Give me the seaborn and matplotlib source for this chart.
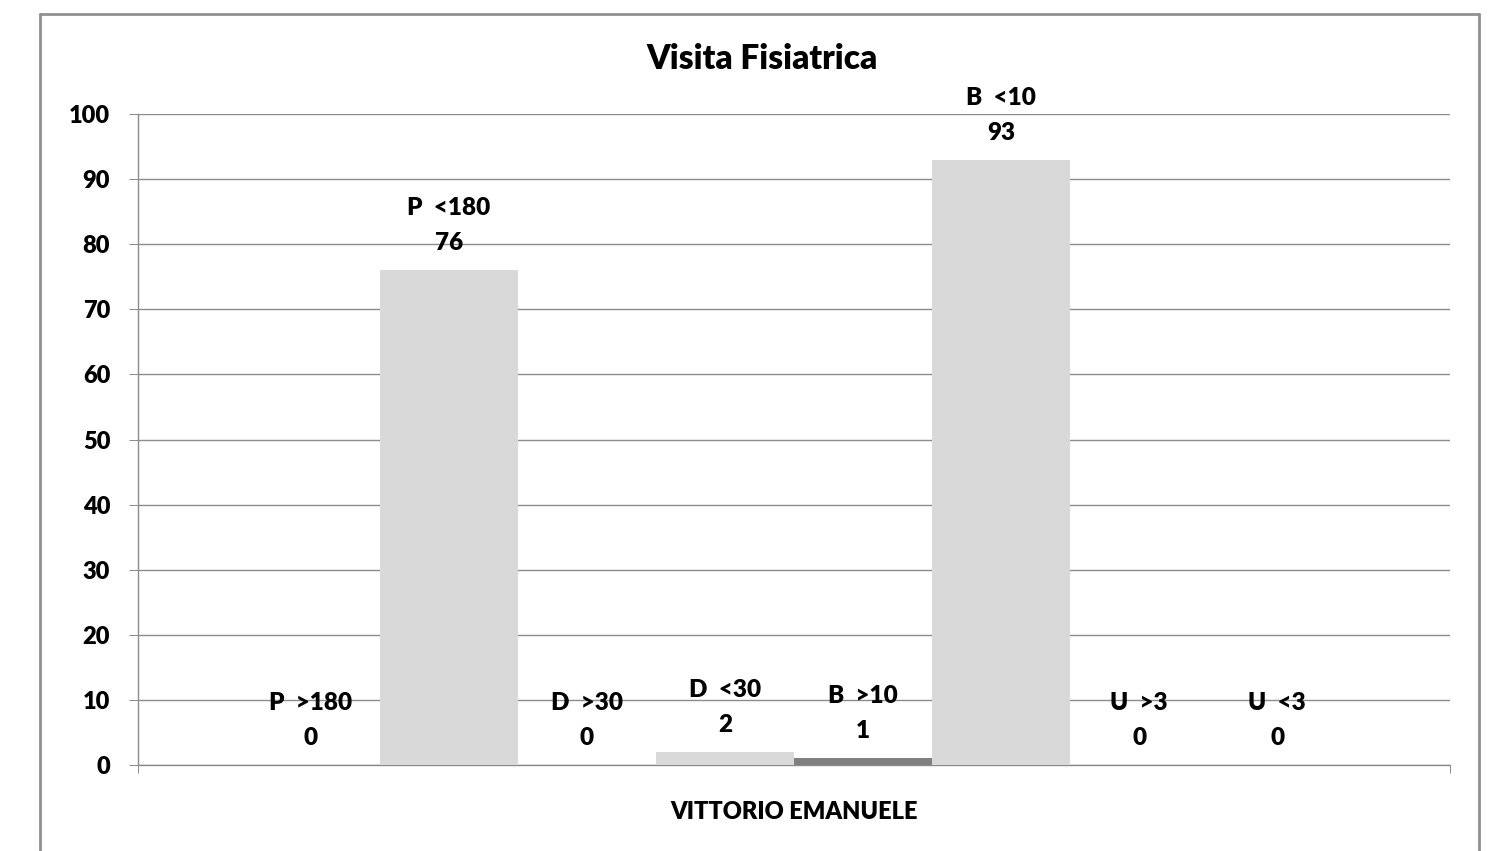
import matplotlib
matplotlib.use("Agg")
import matplotlib.pyplot as plt
from matplotlib.lines import Line2D
import seaborn as sns
import pandas as pd

# Data
categoria = "VITTORIO EMANUELE"
serie = ["P  >180", "P  <180", "D  >30", "D  <30", "B  >10", "B  <10", "U  >3", "U  <3"]
valori = [0, 76, 0, 2, 1, 93, 0, 0]
titolo = "Visita Fisiatrica"

colori = {s: ("#808080" if ">" in s else "#d9d9d9") for s in serie}

df = pd.DataFrame({"categoria": [categoria] * len(serie), "serie": serie, "valore": valori})

sns.set_style("white")
plt.rcParams["font.family"] = ["Lato", "DejaVu Sans"]
WEIGHT = "heavy"

fig = plt.figure(figsize=(14.88, 8.51), dpi=100)
W, H = 1488, 851
ax = fig.add_axes([138 / W, 1 - 765 / H, (1450 - 138) / W, (765 - 114) / H])

grey = "#8c8c8c"

sns.barplot(data=df, x="categoria", y="valore", hue="serie", hue_order=serie,
            palette=colori, width=0.842, gap=0, dodge=True, legend=False,
            linewidth=0, saturation=1, ax=ax, zorder=3)

ax.set_xlim(-0.5, 0.5)
ax.set_ylim(0, 100)
ax.set_yticks(range(0, 101, 10))
ax.yaxis.grid(True, color=grey, linewidth=1.0, zorder=0)
ax.set_axisbelow(True)

for side in ("top", "right"):
    ax.spines[side].set_visible(False)
for side in ("left", "bottom"):
    ax.spines[side].set_color(grey)
    ax.spines[side].set_linewidth(1.0)

ax.tick_params(axis="y", direction="out", length=6.5, width=0.72, color=grey,
               pad=13.5, labelsize=17, labelcolor="black", left=True)
for lab in ax.get_yticklabels():
    lab.set_fontweight(WEIGHT)

# category label below the axis, boundary ticks at the group edges
ax.tick_params(axis="x", which="major", length=0, pad=26, labelsize=17, labelcolor="black")
for lab in ax.get_xticklabels():
    lab.set_fontweight(WEIGHT)
ax.set_xticks([-0.5, 0.5], minor=True)
ax.tick_params(axis="x", which="minor", direction="out", length=6, width=0.72,
               color=grey, bottom=True)
ax.set_xlabel("")
ax.set_ylabel("")

# data labels: series name and value above each bar
for nome, cont in zip(serie, ax.containers):
    bar = cont[0]
    xc = bar.get_x() + bar.get_width() / 2
    yv = bar.get_height()
    ax.annotate(f"{yv:g}", (xc, yv), xytext=(0, 27), textcoords="offset pixels",
                ha="center", va="center", fontsize=17.5, fontweight=WEIGHT,
                color="black", zorder=5)
    ax.annotate(nome, (xc, yv), xytext=(0, 62), textcoords="offset pixels",
                ha="center", va="center", fontsize=17.5, fontweight=WEIGHT,
                color="black", zorder=5)

fig.text(762 / W, 1 - 59 / H, titolo, ha="center", va="center",
         fontsize=24, fontweight=WEIGHT, color="black")

# chart frame
fx = lambda px: px / W
fy = lambda py: 1 - py / H
frame = dict(color="#909090", linewidth=2.0, transform=fig.transFigure)
fig.add_artist(Line2D([fx(40), fx(1479)], [fy(14), fy(14)], **frame))
fig.add_artist(Line2D([fx(40), fx(40)], [fy(14), fy(860)], **frame))
fig.add_artist(Line2D([fx(1479), fx(1479)], [fy(14), fy(860)], **frame))

fig.savefig("out.png", dpi=100, facecolor="white")
